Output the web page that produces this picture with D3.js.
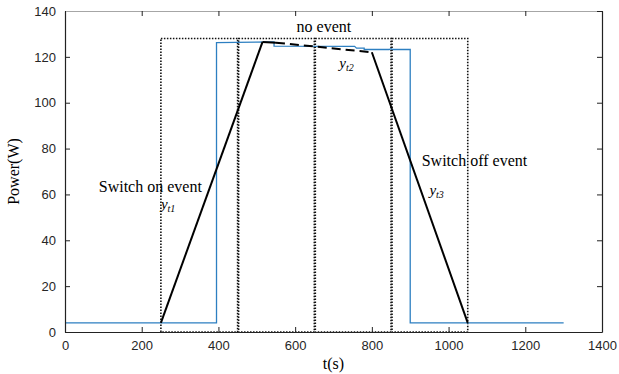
<!DOCTYPE html>
<html>
<head>
<meta charset="utf-8">
<script src="https://cdn.jsdelivr.net/npm/d3@7"></script>
<style>
  body { margin: 0; background: #fff; }
</style>
</head>
<body>
<div id="chart"></div>
<script>
// measured power trace (blue)
var powerT = [0, 395, 395, 545, 545, 755, 760, 780, 780, 845, 850, 855, 900, 900, 1300];
var powerW = [4, 4, 126.2, 126.5, 124.7, 124.6, 123.8, 123.8, 123.2, 123.2, 123.6, 123.2, 123.2, 4, 4];

// fitted trend (black); segment 3 is dashed
var trendT = [250, 515, 550, 800, 1050];
var trendW = [4, 126.5, 126.2, 122, 4];
var trendDash = [false, false, true, false];

// event windows (dotted boxes)
var winStart = [250, 450, 650, 850];
var winEnd = [450, 650, 850, 1050];
var winTop = 128;

var xTicks = [0, 200, 400, 600, 800, 1000, 1200, 1400];
var yTicks = [0, 20, 40, 60, 80, 100, 120, 140];

var sansFont = "'Liberation Sans', Arial, Helvetica, sans-serif";
var serifFont = "'Liberation Serif', 'Times New Roman', Times, serif";

var svgWidth = 619, svgHeight = 374;
var margin = {top: 11, right: 17, bottom: 42, left: 65},
    width = svgWidth - margin.left - margin.right,
    height = svgHeight - margin.top - margin.bottom;

var svg = d3.select("#chart")
  .append("svg")
    .attr("width", svgWidth)
    .attr("height", svgHeight)
  .append("g")
    .attr("transform", "translate(" + margin.left + "," + margin.top + ")");

var x = d3.scaleLinear().domain([0, 1400]).range([0, width]);
var y = d3.scaleLinear().domain([0, 140]).range([height, 0]);

// windows
var wins = winStart.map(function(s, i) { return {s: s, e: winEnd[i]}; });
svg.append("g").selectAll("rect")
  .data(wins)
  .join("rect")
    .attr("x", function(d, i) { return x(d.s) + (i > 0 ? 1 : 0); })
    .attr("y", y(winTop))
    .attr("width", function(d, i) { return x(d.e) - x(d.s) - (i > 0 ? 1 : 0); })
    .attr("height", y(0) - y(winTop))
    .attr("fill", "none")
    .attr("stroke", "#111")
    .attr("stroke-width", 1.6)
    .attr("stroke-dasharray", "1.5,1.5");

// blue power line
var pts = powerT.map(function(t, i) { return [t, powerW[i]]; });
svg.append("path")
  .datum(pts)
  .attr("fill", "none")
  .attr("stroke", "#2d7fc1")
  .attr("stroke-width", 1.3)
  .attr("d", d3.line().x(function(d) { return x(d[0]); }).y(function(d) { return y(d[1]); }));

// trend segments
var segs = trendDash.map(function(dash, i) {
  return {x1: trendT[i], y1: trendW[i], x2: trendT[i + 1], y2: trendW[i + 1], dash: dash};
});
svg.append("g").selectAll("line")
  .data(segs)
  .join("line")
    .attr("x1", function(d) { return x(d.x1); })
    .attr("y1", function(d) { return y(d.y1); })
    .attr("x2", function(d) { return x(d.x2); })
    .attr("y2", function(d) { return y(d.y2); })
    .attr("stroke", "#000")
    .attr("stroke-width", 2)
    .attr("stroke-dasharray", function(d) { return d.dash ? "9,5" : null; });

// axes (inner ticks on all sides)
var fmt = d3.format("d");
var xAxis = svg.append("g")
  .attr("transform", "translate(0," + height + ")")
  .call(d3.axisBottom(x).tickValues(xTicks).tickFormat(fmt).tickSizeInner(-5).tickSizeOuter(0).tickPadding(9));
var yAxis = svg.append("g")
  .call(d3.axisLeft(y).tickValues(yTicks).tickFormat(fmt).tickSizeInner(-5).tickSizeOuter(0).tickPadding(9));
var xTop = svg.append("g")
  .call(d3.axisTop(x).tickValues(xTicks).tickSizeInner(-5).tickSizeOuter(0).tickFormat(""));
var yRight = svg.append("g")
  .attr("transform", "translate(" + width + ",0)")
  .call(d3.axisRight(y).tickValues(yTicks).tickSizeInner(-5).tickSizeOuter(0).tickFormat(""));

svg.selectAll(".domain").attr("stroke", "#222").attr("stroke-width", 1.2);
svg.selectAll(".tick line").attr("stroke", "#222");
xTop.select(".domain").attr("stroke", "#a6a6a6");
svg.selectAll(".tick text")
  .style("font-family", sansFont)
  .style("font-size", "13px")
  .attr("fill", "#262626");

// labels
function label(tx, ty, txt) {
  return svg.append("text")
    .attr("x", tx).attr("y", ty)
    .style("font-family", serifFont)
    .style("font-size", "16px")
    .attr("fill", "#000")
    .text(txt);
}
label(width / 2, height + 37, "t(s)").attr("text-anchor", "middle");
label(0, 0, "Power(W)")
  .attr("transform", "translate(" + (-46) + "," + (height / 2) + ") rotate(-90)")
  .attr("text-anchor", "middle");
label(x(675), 21, "no event").attr("text-anchor", "middle");
label(x(88), 181, "Switch on event");
label(x(930), 155, "Switch off event");

function ylab(tx, ty, sub) {
  var t = label(tx, ty, null).style("font-style", "italic").style("font-size", "15px");
  t.append("tspan").text("y");
  t.append("tspan").attr("dy", 3).style("font-size", "10px").text(sub);
}
ylab(x(250), 198, "t1");
ylab(x(715), 57, "t2");
ylab(x(950), 184, "t3");
</script>
</body>
</html>
